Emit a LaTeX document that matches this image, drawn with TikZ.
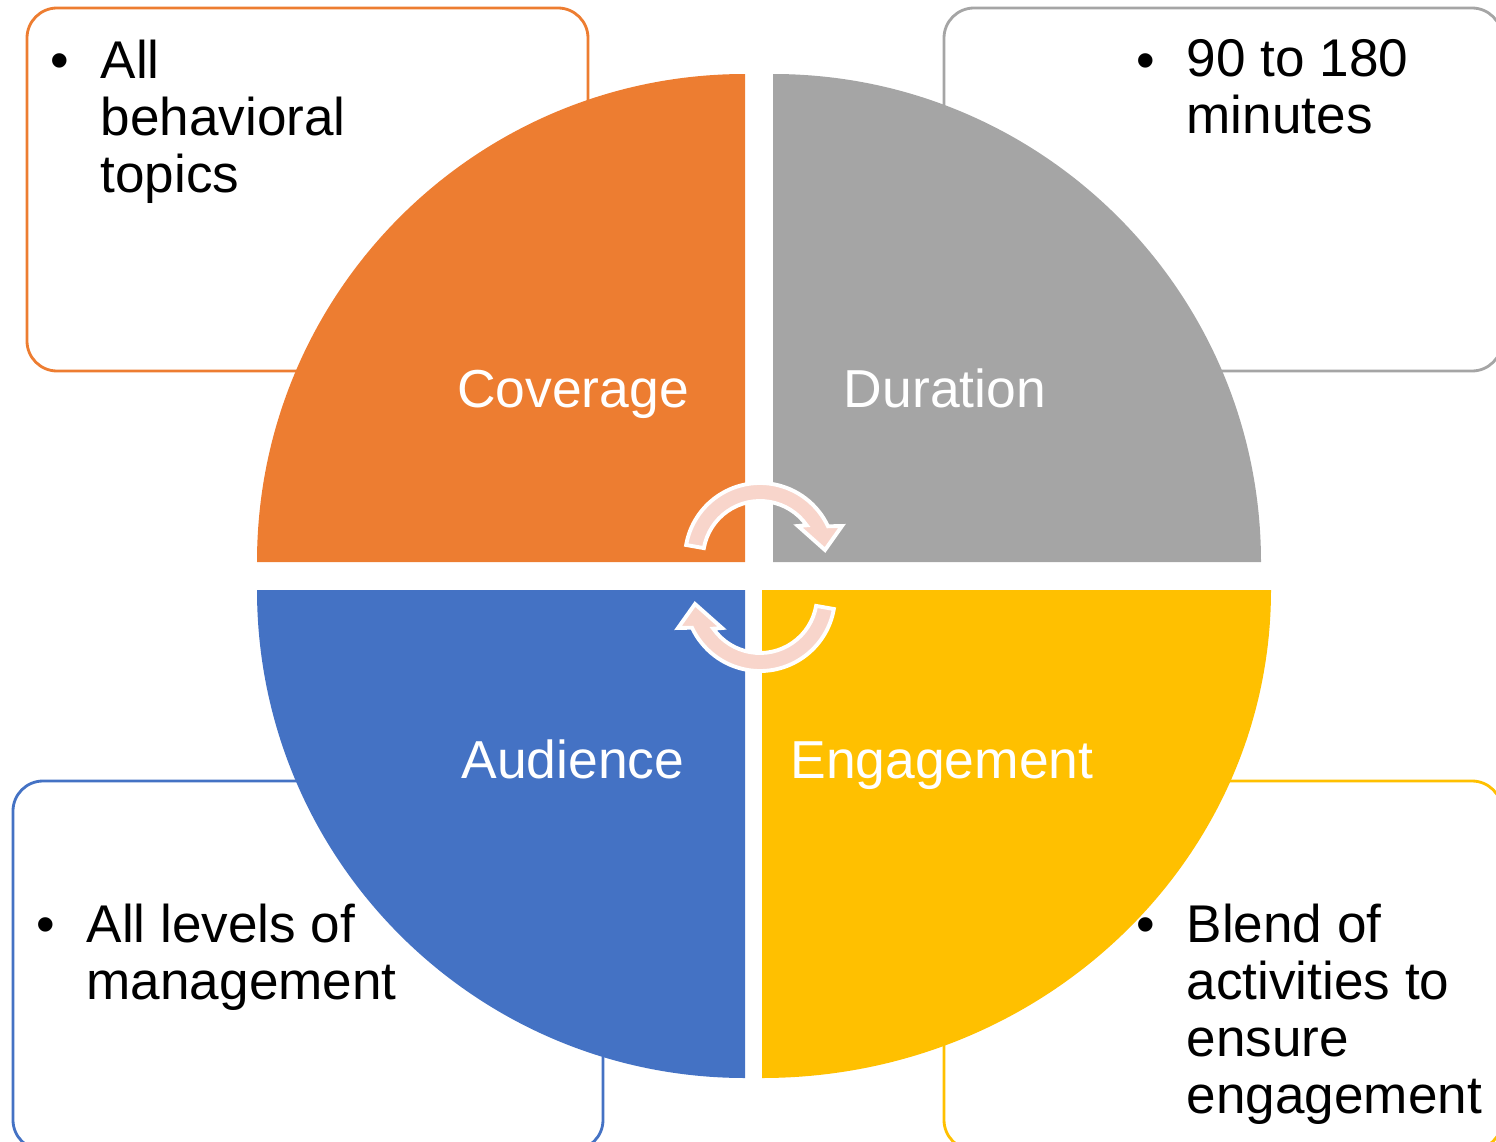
\documentclass[tikz,border=0pt]{standalone}
\usepackage{fontspec}
\setmainfont{Liberation Sans}
\usetikzlibrary{positioning}
\definecolor{covorange}{HTML}{ED7D31}
\definecolor{durgray}{HTML}{A5A5A5}
\definecolor{audblue}{HTML}{4472C4}
\definecolor{enggold}{HTML}{FFC000}
\definecolor{turnpink}{HTML}{F8D5CB}

\begin{document}
\begin{tikzpicture}[x=0.01cm, y=0.01cm,
    box/.style = {rounded corners=0.3cm, line width=0.8pt, fill=white},
    sect/.style = {text=white, inner sep=0pt, anchor=base, font=\fontsize{15.2}{18}\selectfont},
    info/.style = {align=left, anchor=north west, inner sep=0pt, font=\fontsize{15.1}{16.2}\selectfont},
    dot/.style = {anchor=base, inner sep=0pt, font=\fontsize{15.1}{16.2}\selectfont},
    turn/.style = {fill=turnpink, draw=white, line width=1.1pt}]
    \useasboundingbox (0,0) rectangle (1496,1141);
    \clip (0,0) rectangle (1496,1141);

    % Boxes
    \draw[box, draw=covorange] (27,770) rectangle (588,1133);
    \draw[box, draw=durgray] (944,770) rectangle (1502,1133);
    \draw[box, draw=audblue] (13,-9) rectangle (603,360);
    \draw[box, draw=enggold] (944,-9) rectangle (1502,360);

    % Quarters
    \fill[covorange] (745,579) -- (257,579) arc[start angle=180, end angle=90, radius=488] -- cycle;
    \fill[durgray] (773,579) -- (1261,579) arc[start angle=0, end angle=90, radius=488] -- cycle;
    \fill[audblue] (745,551) -- (257,551) arc[start angle=180, end angle=270, radius=488] -- cycle;
    \fill[enggold] (762,551) -- (1271,551) arc[start angle=0, end angle=-90, x radius=509, y radius=488] -- cycle;

    % Nodes
    \node[sect] (cov) at (573,734) {Coverage};
    \node[sect] (dur) at (945,734) {Duration};
    \node[sect] (aud) at (573,363) {Audience};
    \node[sect] (eng) at (942,363) {Engagement};

    \node[dot] (bcov) at (60,1063) {\textbullet};
    \node[info] (tcov) at (100,1102) {All\\behavioral\\topics};
    \node[dot] (bdur) at (1146,1063) {\textbullet};
    \node[info] (tdur) at (1186,1102) {90 to 180\\minutes};
    \node[dot] (baud) at (46,199) {\textbullet};
    \node[info] (taud) at (86,238) {All levels of\\management};
    \node[dot] (beng) at (1146,199) {\textbullet};
    \node[info] (teng) at (1186,238) {Blend of\\activities to\\ensure\\engagement};

    % Turning arrows
    \begin{scope}[shift={(760,583)}]
        \filldraw[turn] (170:57) -- (170:75) arc[start angle=170, end angle=25, radius=75]
            -- (82,32) -- (65,8) -- (38,32) -- (35:57) arc[start angle=35, end angle=170, radius=57] -- cycle;
    \end{scope}
    \begin{scope}[shift={(760,545)}, rotate=180]
        \filldraw[turn] (170:57) -- (170:75) arc[start angle=170, end angle=25, radius=75]
            -- (82,32) -- (65,8) -- (38,32) -- (35:57) arc[start angle=35, end angle=170, radius=57] -- cycle;
    \end{scope}
\end{tikzpicture}
\end{document}
